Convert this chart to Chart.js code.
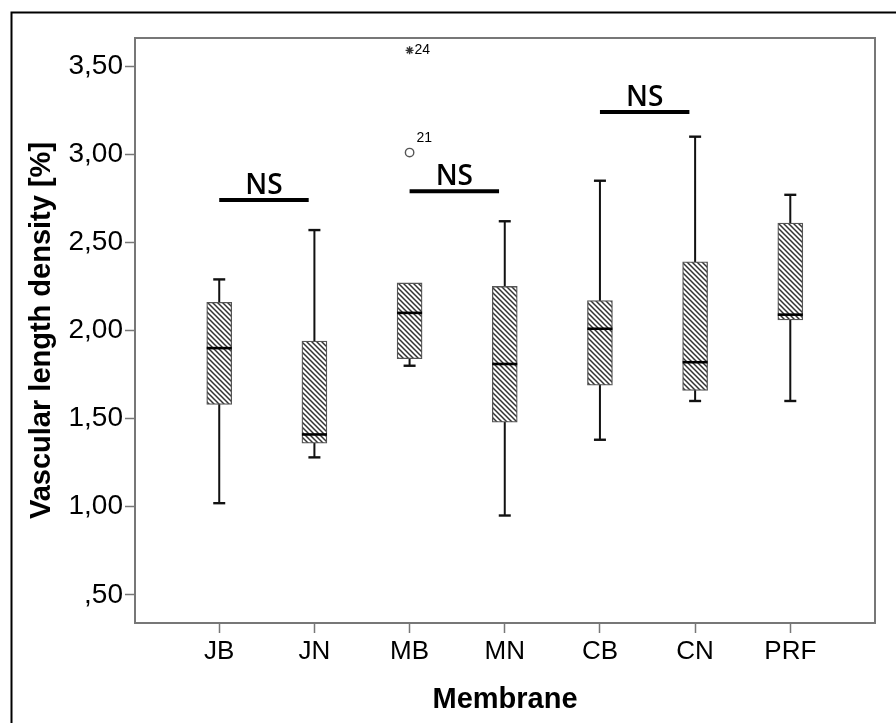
<!DOCTYPE html>
<html><head><meta charset="utf-8">
<script src="https://cdn.jsdelivr.net/npm/chart.js@4/dist/chart.umd.min.js"></script>
<style>html,body{margin:0;padding:0;background:#fff}#wrap{width:896px;height:723px;position:relative}</style>
</head><body><div id="wrap"><canvas id="c" width="896" height="723"></canvas></div>
<script>
// ---- data ----
const categories   = ["JB","JN","MB","MN","CB","CN","PRF"];
const whiskerLow   = [1.02, 1.28, 1.80, 0.95, 1.38, 1.60, 1.60];
const quartile1    = [1.58, 1.36, 1.84, 1.48, 1.69, 1.66, 2.06];
const medians      = [1.90, 1.41, 2.10, 1.81, 2.01, 1.82, 2.09];
const quartile3    = [2.16, 1.94, 2.27, 2.25, 2.17, 2.39, 2.61];
const whiskerHigh  = [2.29, 2.57, 2.27, 2.62, 2.85, 3.10, 2.77];
const outlierCategory = ["MB", "MB"];
const outlierValues   = [3.01, 3.59];
const outlierIds      = ["21", "24"];
const outlierKinds    = ["circle", "star"];
const nsFrom   = ["JB", "MB", "CB"];
const nsTo     = ["JN", "MN", "CN"];
const nsLevel  = [2.74, 2.79, 3.24];
const nsLabel  = "NS";
const yTickValues = [0.5, 1.0, 1.5, 2.0, 2.5, 3.0, 3.5];
const yTickLabels = [",50", "1,00", "1,50", "2,00", "2,50", "3,00", "3,50"];
const xTitle = "Membrane";
const yTitle = "Vascular length density [%]";

// ---- helpers ----
const idx = c => categories.indexOf(c);
function hatchPattern(){
  const s = 5, c = document.createElement('canvas'); c.width = s; c.height = s;
  const g = c.getContext('2d');
  g.fillStyle = '#fff'; g.fillRect(0,0,s,s);
  g.strokeStyle = '#333'; g.lineWidth = 1.5; g.beginPath();
  g.moveTo(-1,-1); g.lineTo(s+1,s+1);
  g.moveTo(-1,s-1); g.lineTo(1,s+1);
  g.moveTo(s-1,-1); g.lineTo(s+1,1);
  g.stroke();
  return g.createPattern(c,'repeat');
}
const ctx = document.getElementById('c').getContext('2d');

const boxData = categories.map((c,i)=>({x:i, y:[quartile1[i], quartile3[i]]}));
const whiskerData = [];
categories.forEach((c,i)=>{
  whiskerData.push({x:i,y:whiskerLow[i]},{x:i,y:whiskerHigh[i]},{x:i,y:null});
});
const capData = [];
categories.forEach((c,i)=>{
  if (whiskerLow[i] < quartile1[i]) capData.push({x:i,y:whiskerLow[i]});
  if (whiskerHigh[i] > quartile3[i]) capData.push({x:i,y:whiskerHigh[i]});
});
const medianData = categories.map((c,i)=>({x:i,y:medians[i]}));
const circleData = [], starData = [];
outlierValues.forEach((v,k)=>{
  const p = {x: idx(outlierCategory[k]), y: v};
  (outlierKinds[k]==='circle' ? circleData : starData).push(p);
});
const nsData = [];
nsFrom.forEach((f,k)=>{
  const a = idx(f), b = idx(nsTo[k]);
  nsData.push({x:a, y:nsLevel[k]}, {x:b-0.06, y:nsLevel[k]}, {x:b, y:null});
});

const FONT = "'Liberation Sans', Arial, sans-serif";

const annot = {
  id: 'annot',
  beforeDraw(chart){
    const c = chart.ctx; c.save();
    c.fillStyle = '#fff'; c.fillRect(0,0,chart.width,chart.height);
    c.strokeStyle = '#000'; c.lineWidth = 2;
    c.beginPath(); c.moveTo(11.5, chart.height); c.lineTo(11.5, 12.5); c.lineTo(chart.width, 12.5); c.stroke();
    c.restore();
  },
  beforeDatasetsDraw(chart){
    const a = chart.chartArea, c = chart.ctx; c.save();
    c.strokeStyle = '#777'; c.lineWidth = 2;
    c.strokeRect(a.left, a.top, a.right - a.left, a.bottom - a.top);
    c.restore();
  },
  afterDatasetsDraw(chart){
    const c = chart.ctx, xs = chart.scales.x, ys = chart.scales.y;
    c.save();
    c.fillStyle = '#000';
    c.font = "600 28px 'Open Sans', sans-serif";
    c.textAlign = 'center'; c.textBaseline = 'alphabetic';
    nsFrom.forEach((f,k)=>{
      const x1 = xs.getPixelForValue(idx(f)), x2 = xs.getPixelForValue(idx(nsTo[k]) - 0.06);
      c.fillText(nsLabel, (x1+x2)/2, ys.getPixelForValue(nsLevel[k]) - 6);
    });
    c.font = "14px " + FONT; c.textAlign = 'left'; c.textBaseline = 'middle';
    outlierValues.forEach((v,k)=>{
      const px = xs.getPixelForValue(idx(outlierCategory[k])), py = ys.getPixelForValue(v);
      if (outlierKinds[k]==='circle') c.fillText(outlierIds[k], px + 7, py - 14);
      else c.fillText(outlierIds[k], px + 5, py);
    });
    c.restore();
  }
};

new Chart(ctx, {
  type: 'bar',
  data: {
    datasets: [
      { type:'line', data: nsData, borderColor:'#000', borderWidth:4, pointRadius:0, spanGaps:false, order:1, borderCapStyle:'butt' },
      { type:'line', data: medianData, showLine:false, pointStyle:'line', pointRadius:12.5, pointBorderWidth:2.6, pointBorderColor:'#000', order:1 },
      { type:'line', data: capData, showLine:false, pointStyle:'line', pointRadius:6, pointBorderWidth:2.4, pointBorderColor:'#111', order:1 },
      { type:'line', data: circleData, showLine:false, pointStyle:'circle', pointRadius:4.2, pointBorderWidth:1.4, pointBorderColor:'#555', pointBackgroundColor:'#fff', order:1 },
      { type:'line', data: starData, showLine:false, pointStyle:'star', pointRadius:4, pointBorderWidth:1.4, pointBorderColor:'#333', order:1 },
      { type:'bar', data: boxData, backgroundColor: hatchPattern(), borderColor:'#555', borderWidth:1.3, borderSkipped:false, barThickness:25, order:2 },
      { type:'line', data: whiskerData, borderColor:'#111', borderWidth:2, pointRadius:0, spanGaps:false, order:3 }
    ]
  },
  options: {
    responsive:false, animation:false, events:[],
    layout: { padding: { top:38, right:21, bottom:0, left:0 } },
    plugins: { legend:{display:false}, tooltip:{enabled:false} },
    scales: {
      x: {
        type:'linear', min:-0.885, max:6.89, offset:false,
        afterBuildTicks: ax => { ax.ticks = categories.map((c,i)=>({value:i})); },
        afterFit: s => { s.height = 100; },
        ticks: { callback: (v,i) => categories[i], color:'#000', font:{family:FONT, size:26}, padding:3, autoSkip:false, maxRotation:0 },
        grid: { drawOnChartArea:false, drawTicks:true, tickLength:10, color:'#777', tickWidth:1.5, offset:false },
        border: { display:true, color:'#777', width:2 },
        title: { display:true, text:xTitle, color:'#000', font:{family:FONT, size:29, weight:'bold'}, padding:{top:0,bottom:6} }
      },
      y: {
        type:'linear', min:0.34, max:3.66,
        afterBuildTicks: ax => { ax.ticks = yTickValues.map(v=>({value:v})); },
        afterFit: s => { s.width = 135; },
        ticks: { callback: (v,i) => yTickLabels[i], color:'#000', font:{family:FONT, size:28}, padding:2 },
        grid: { drawOnChartArea:false, drawTicks:true, tickLength:10, color:'#777', tickWidth:1.5 },
        border: { display:true, color:'#777', width:2 },
        title: { display:true, text:yTitle, color:'#000', font:{family:FONT, size:29, weight:'bold'}, padding:{top:25,bottom:0} }
      }
    }
  },
  plugins: [annot]
});
</script></body></html>
